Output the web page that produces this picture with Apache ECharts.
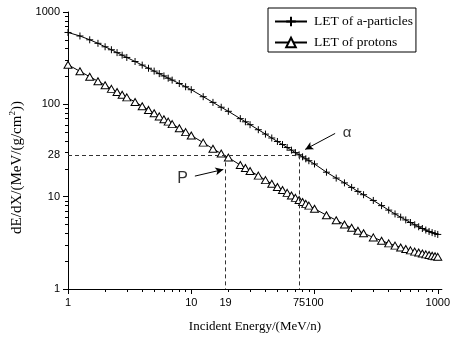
<!DOCTYPE html>
<html>
<head>
<meta charset="utf-8">
<script src="https://cdn.jsdelivr.net/npm/echarts@6/dist/echarts.min.js"></script>
<style>html,body{margin:0;padding:0;background:#fff}#c{width:453px;height:338px}</style>
</head>
<body>
<div id="c"></div>
<script>
// Incident energy (MeV/n)
const energy = [1, 1.25, 1.5, 1.75, 2, 2.25, 2.5, 2.75, 3, 3.5, 4, 4.5, 5, 5.5, 6, 6.5, 7, 8, 9, 10,
  12.5, 15, 17.5, 20, 25, 27.5, 30, 35, 40, 45, 50, 55, 60, 65, 70, 75, 80, 85, 90, 100,
  125, 150, 175, 200, 225, 250, 300, 350, 400, 450, 500, 550, 600, 650, 700, 750, 800, 850, 900, 950, 1000];
// LET of alpha particles, MeV/(g/cm2)
const alphaLET = [600, 550, 500, 458, 420, 390, 363, 341, 322, 291, 266, 246, 229, 215, 203, 192, 183, 168, 155, 144,
  121, 105, 93, 84, 70, 64.7, 60.2, 53.1, 47.6, 43.2, 39.6, 36.7, 34.1, 31.9, 30, 28.4, 27, 25.7, 24.5, 22.6,
  18.4, 15.9, 14.1, 12.6, 11.4, 10.5, 9.1, 8.0, 7.15, 6.5, 6.0, 5.6, 5.25, 4.96, 4.72, 4.52, 4.35, 4.2, 4.08, 3.98, 3.9];
// LET of protons, MeV/(g/cm2)
const protonLET = [268, 228, 199, 178, 161, 147, 136, 127, 119, 106, 95.5, 87, 80, 74, 69, 65, 61, 55, 50, 46,
  38.5, 33, 29.3, 26.5, 22, 20.4, 19, 16.9, 15.1, 13.8, 12.7, 11.8, 11, 10.3, 9.7, 9.2, 8.75, 8.35, 8, 7.4,
  6.3, 5.55, 5, 4.6, 4.28, 4.02, 3.62, 3.33, 3.12, 2.95, 2.82, 2.71, 2.62, 2.54, 2.48, 2.42, 2.37, 2.33, 2.29, 2.26, 2.23];

const seriesNames = ['LET of a-particles', 'LET of protons'];
const xMajorTicks = [1, 10, 100, 1000];
const xMinorTicks = [2, 3, 4, 5, 6, 7, 8, 9, 20, 30, 40, 50, 60, 70, 80, 90, 200, 300, 400, 500, 600, 700, 800, 900];
const xTickLabels = [1, 10, 19, 75, 100, 1000];
const yMajorTicks = [1, 10, 100, 1000];
const yMinorTicks = [2, 3, 4, 5, 6, 7, 8, 9, 20, 30, 40, 50, 60, 70, 80, 90, 200, 300, 400, 500, 600, 700, 800, 900];
const yTickLabels = [1, 10, 28, 100, 1000];

// reference read-off: protons at 19 MeV/n and alphas at 75 MeV/n both give 28
const refLET = 28;
const refEnergyP = 19;
const refEnergyA = 75;

// annotation arrows (data coords) and their labels
const arrowA = [[147, 48.4], [84, 32.5]];
const arrowP = [[10.7, 16.7], [18.2, 19.7]];
const labelA = [184, 49.2];
const labelP = [8.5, 15.8];

const serif = "'Times New Roman','Liberation Serif',serif";
const sans = "Arial,'Liberation Sans',sans-serif";
const xMin = 1, xMax = 1080, yMin = 1, yMax = 1000;

const zip = (xs, ys) => xs.map((x, i) => [x, ys[i]]);
const plusPath = 'path://M0,5L10,5M5,0L5,10';

const chart = echarts.init(document.getElementById('c'), null, {renderer: 'canvas'});

const axisCommon = {type: 'log', logBase: 10, splitLine: {show: false}};

chart.setOption({
  animation: false,
  backgroundColor: '#fff',
  grid: {left: 68, top: 12, right: 11, bottom: 49, containLabel: false},
  legend: {
    data: seriesNames,
    orient: 'vertical',
    left: 268, top: 8,
    padding: [6, 3, 2, 6],
    itemWidth: 32, itemHeight: 12, itemGap: 6,
    borderColor: '#000', borderWidth: 1,
    textStyle: {fontFamily: serif, fontSize: 13.5, lineHeight: 15, color: '#000', padding: [0, 0, 0, 2]}
  },
  xAxis: [
    Object.assign({}, axisCommon, {
      min: xMin, max: xMax, position: 'bottom',
      name: 'Incident Energy/(MeV/n)', nameLocation: 'middle', nameGap: 31,
      nameTextStyle: {fontFamily: serif, fontSize: 13, color: '#000'},
      axisLine: {show: true, lineStyle: {color: '#000', width: 1}},
      axisTick: {show: true, length: 5, customValues: xMajorTicks, lineStyle: {color: '#000'}},
      axisLabel: {show: true, customValues: xTickLabels, margin: 8, fontFamily: sans, fontSize: 11, color: '#000',
        formatter: v => String(Math.round(v))}
    }),
    Object.assign({}, axisCommon, {
      min: xMin, max: xMax, position: 'bottom', offset: 0,
      axisLine: {show: false},
      axisTick: {show: true, length: 3, customValues: xMinorTicks, lineStyle: {color: '#000'}},
      axisLabel: {show: false}
    })
  ],
  yAxis: [
    Object.assign({}, axisCommon, {
      min: yMin, max: yMax, position: 'left',
      name: '{a|dE/dX/(MeV/(g/cm}{s|2}{a|))}', nameLocation: 'middle', nameGap: 29, nameRotate: 90,
      nameTextStyle: {
        color: '#000',
        padding: [0, 34, 0, 0],
        rich: {
          a: {fontFamily: serif, fontSize: 15, color: '#000', lineHeight: 18},
          s: {fontFamily: serif, fontSize: 9, color: '#000', verticalAlign: 'top', lineHeight: 18}
        }
      },
      axisLine: {show: true, lineStyle: {color: '#000', width: 1}},
      axisTick: {show: true, length: 5, customValues: yMajorTicks, lineStyle: {color: '#000'}},
      axisLabel: {show: true, customValues: yTickLabels, margin: 8, fontFamily: sans, fontSize: 11, color: '#000',
        formatter: v => String(Math.round(v))}
    }),
    Object.assign({}, axisCommon, {
      min: yMin, max: yMax, position: 'left', offset: 0,
      axisLine: {show: false},
      axisTick: {show: true, length: 3, customValues: yMinorTicks, lineStyle: {color: '#000'}},
      axisLabel: {show: false}
    })
  ],
  series: [
    {
      name: seriesNames[0], type: 'line', data: zip(energy, alphaLET),
      symbol: plusPath, symbolSize: 7, showAllSymbol: true,
      lineStyle: {color: '#000', width: 1},
      itemStyle: {color: 'rgba(0,0,0,0)', borderColor: '#000', borderWidth: 1}
    },
    {
      name: seriesNames[1], type: 'line', data: zip(energy, protonLET),
      symbol: 'triangle', symbolSize: [8, 7], showAllSymbol: true,
      lineStyle: {color: '#000', width: 1},
      itemStyle: {color: '#fff', borderColor: '#000', borderWidth: 1}
    },
    {
      name: 'guides', type: 'line', data: [], silent: true,
      markLine: {
        silent: true, symbol: ['none', 'none'], label: {show: false},
        lineStyle: {color: '#333', width: 1, type: [4, 3]},
        data: [
          [{coord: [xMin, refLET]}, {coord: [refEnergyA, refLET]}],
          [{coord: [refEnergyP, refLET]}, {coord: [refEnergyP, yMin]}],
          [{coord: [refEnergyA, refLET]}, {coord: [refEnergyA, yMin]}]
        ]
      }
    },
    {
      name: 'arrows', type: 'line', data: [], silent: true,
      markLine: {
        silent: true, symbol: ['none', 'arrow'], symbolSize: [6, 8], label: {show: false},
        lineStyle: {color: '#000', width: 1, type: 'solid'},
        data: [
          [{coord: arrowA[0]}, {coord: arrowA[1]}],
          [{coord: arrowP[0]}, {coord: arrowP[1]}]
        ]
      }
    },
    {
      name: 'labels', type: 'scatter', silent: true, symbolSize: 0,
      data: [
        {value: labelA, label: {formatter: 'α', fontSize: 15}},
        {value: labelP, label: {formatter: 'P', fontSize: 16}}
      ],
      label: {show: true, position: 'inside', fontFamily: sans, color: '#000'}
    }
  ]
});
</script>
</body>
</html>
